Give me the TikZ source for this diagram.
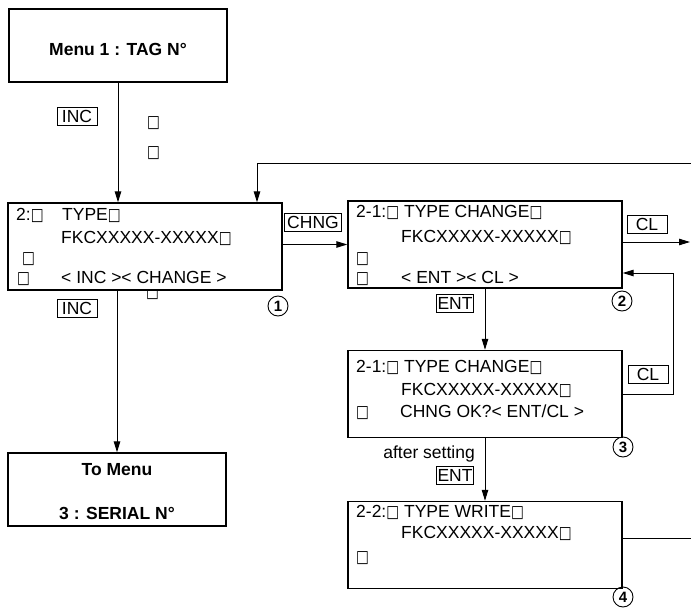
\documentclass[tikz,border=0pt]{standalone}
\usepackage{fontspec}
\setmainfont{Liberation Sans}
\newfontfamily\symfont{DejaVu Sans}
\usetikzlibrary{positioning,arrows.meta}
\newcommand{\sqb}{\scalebox{0.8}[1]{\symfont\fontsize{17}{17}\selectfont □}}
\tikzset{
  % --- screens ---------------------------------------------------------------
  screen/.style={rectangle,draw,line width=1.4pt,fill=white,inner sep=0pt},
  menubox/.style={screen,minimum width=218pt,minimum height=73pt},
  lcdbox/.style={screen,minimum width=274pt,minimum height=87pt},
  lcd/.style={anchor=base west,inner sep=0pt,font=\fontsize{17.5}{20}\selectfont},
  mtext/.style={inner sep=0pt,font=\fontsize{17.5}{20}\selectfont\bfseries},
  % --- keys and step numbers -------------------------------------------------
  keylab/.style={rectangle,draw,line width=0.8pt,inner sep=0pt,
                 minimum height=18pt,font=\fontsize{17.5}{20}\selectfont},
  numc/.style={circle,draw,line width=0.9pt,minimum size=20pt,inner sep=0pt,
               font=\fontsize{15}{15}\selectfont\bfseries},
  % --- connectors ------------------------------------------------------------
  conn/.style={line width=1pt},
  arr/.style={conn,-{Triangle[length=11pt,width=6.5pt]}},
}

\begin{document}
\begin{tikzpicture}[x=1pt, y=-1pt]
  \useasboundingbox (0,0) rectangle (691,610);

  % menu boxes
  \node[menubox] (menu1)  at (118,45.5)  {};
  \node[mtext]   (m1txt)  at (118,49)    {Menu 1 : TAG N°};
  \node[menubox] (tomenu) at (117,489.5) {};
  \node[mtext]   (tm1)    at (117,470)   {To Menu};
  \node[mtext]   (tm2)    at (117,513)   {3 : SERIAL N°};

  % screen 1
  \node[lcd]    (ta7)  at (146,297) {\sqb};
  \node[lcdbox] (type) at (145,246.5) {};
  \node[lcd] (ta1) at (16,220) {2:\sqb};
  \node[lcd] (ta2) at (62,220) {TYPE\sqb};
  \node[lcd] (ta3) at (61,243) {FKCXXXXX-XXXXX\sqb};
  \node[lcd] (ta4) at (22,263) {\sqb};
  \node[lcd] (ta5) at (17,283) {\sqb};
  \node[lcd] (ta6) at (61,283) {< INC >< CHANGE >};

  % screen 2
  \node[lcdbox] (chg) at (485,244.5) {};
  \node[lcd] (tb1) at (356,217) {2-1:\sqb{} TYPE CHANGE\sqb};
  \node[lcd] (tb2) at (401,242) {FKCXXXXX-XXXXX\sqb};
  \node[lcd] (tb3) at (356,263) {\sqb};
  \node[lcd] (tb4) at (356,283) {\sqb};
  \node[lcd] (tb5) at (401,283) {< ENT >< CL >};

  % screen 3
  \node[lcdbox] (chgok) at (485,394) {};
  \node[lcd] (tc1) at (356,372) {2-1:\sqb{} TYPE CHANGE\sqb};
  \node[lcd] (tc2) at (401,395) {FKCXXXXX-XXXXX\sqb};
  \node[lcd] (tc3) at (356,417) {\sqb};
  \node[lcd] (tc4) at (400,417) {CHNG OK?< ENT/CL >};

  % screen 4
  \node[lcdbox] (wr) at (485,545) {};
  \node[lcd] (td1) at (356,517) {2-2:\sqb{} TYPE WRITE\sqb};
  \node[lcd] (td2) at (401,538) {FKCXXXXX-XXXXX\sqb};
  \node[lcd] (td3) at (356,562) {\sqb};

  % step numbers
  \node[numc] (n1) at (278,306) {1};
  \node[numc] (n2) at (622,301) {2};
  \node[numc] (n3) at (623,447) {3};
  \node[numc] (n4) at (623,597) {4};

  % keys
  \node[keylab,minimum width=40pt] (kinc1) at (77,116.5) {INC};
  \node[lcd] (sq1) at (147,128) {\sqb};
  \node[lcd] (sq2) at (147,157) {\sqb};
  \node[keylab,minimum width=40pt] (kinc2) at (77,308.5) {INC};
  \node[keylab,minimum width=57pt] (kchng) at (313,222)   {CHNG};
  \node[keylab,minimum width=40pt] (kcl1)  at (647,224)   {CL};
  \node[keylab,minimum width=40pt] (kcl2)  at (648,374)   {CL};
  \node[keylab,minimum width=37pt] (kent1) at (455,303.5) {ENT};
  \node[keylab,minimum width=37pt] (kent2) at (455,475)   {ENT};
  \node[lcd,anchor=base east] (aft) at (475,458) {after setting};

  % connectors
  \coordinate (loopin) at (691,163);
  \coordinate (loopc)  at (257,163);
  \coordinate (clout)  at (690,242);
  \coordinate (cltop)  at (673,273);
  \coordinate (clbot)  at (673,394);
  \coordinate (wrout)  at (691,538);

  \draw[arr] (menu1.south) -- (menu1.south |- type.north);
  \draw[arr] (tomenu.north |- type.south) -- (tomenu.north);
  \draw[arr] (loopin) -- (loopc) -- (loopc |- type.north);
  \draw[arr] (type.east |- chg.west) -- (chg.west);
  \draw[arr] (chg.east |- clout) -- (clout);
  \draw[arr] (chgok.east |- clbot) -- (clbot) -- (cltop) -- (chg.east |- cltop);
  \draw[arr] (chg.south) -- (chgok.north);
  \draw[arr] (chgok.south) -- (wr.north);
  \draw[conn] (wr.east |- wrout) -- (wrout);
\end{tikzpicture}
\end{document}
